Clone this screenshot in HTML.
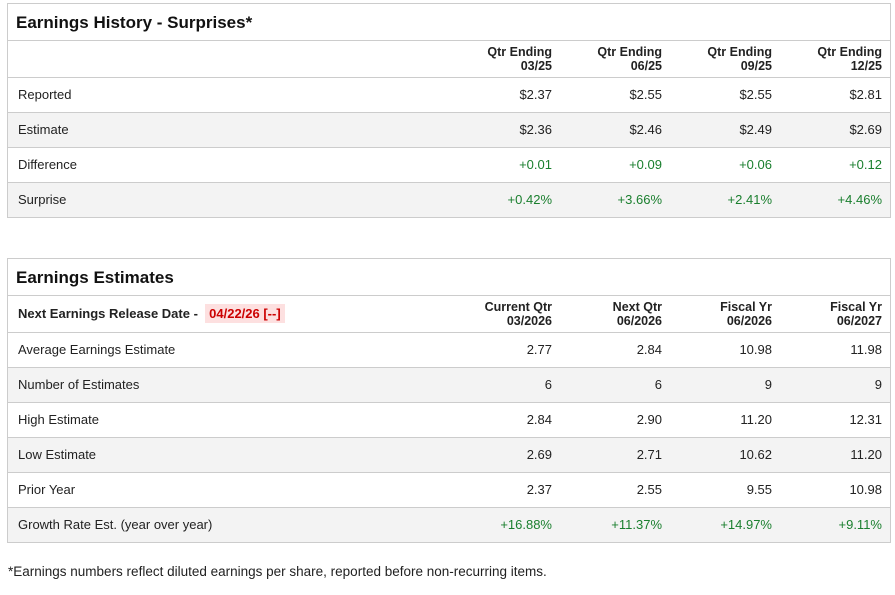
<!DOCTYPE html>
<html><head><style>
body{margin:0;width:895px;height:595px;background:#fff;font-family:"Liberation Sans",sans-serif;color:#222;position:relative;overflow:hidden}
.box{position:absolute;left:7px;width:884px;border:1px solid #ccc;box-sizing:border-box}
.title{height:37px;line-height:37px;padding-left:8px;font-weight:bold;font-size:17px;border-bottom:1px solid #ccc;box-sizing:border-box;color:#111}
.row{height:35px;position:relative;border-bottom:1px solid #ccc;box-sizing:border-box;font-size:13px}
.row:last-child{border-bottom:none;height:34px}
.alt{background:#f3f3f3}
.row .l{position:absolute;left:10px;top:0;line-height:34px}
.row .c{position:absolute;top:0;line-height:34px;text-align:right;width:100px}
.hdr .c{line-height:14px;top:4px;font-weight:bold;font-size:12.5px}
.g{color:#1a7f2e}
.c1{left:444px}.c2{left:554px}.c3{left:664px}.c4{left:774px}
.tag{background:#fde0e0;color:#c00;padding:2px 4px}
</style></head><body>
<div class="box" style="top:3px">
<div class="title">Earnings History - Surprises*</div>
<div class="row hdr" style="height:37px"><div class="c c1">Qtr Ending<br>03/25</div><div class="c c2">Qtr Ending<br>06/25</div><div class="c c3">Qtr Ending<br>09/25</div><div class="c c4">Qtr Ending<br>12/25</div></div>
<div class="row"><div class="l">Reported</div><div class="c c1">$2.37</div><div class="c c2">$2.55</div><div class="c c3">$2.55</div><div class="c c4">$2.81</div></div>
<div class="row alt"><div class="l">Estimate</div><div class="c c1">$2.36</div><div class="c c2">$2.46</div><div class="c c3">$2.49</div><div class="c c4">$2.69</div></div>
<div class="row"><div class="l">Difference</div><div class="c c1 g">+0.01</div><div class="c c2 g">+0.09</div><div class="c c3 g">+0.06</div><div class="c c4 g">+0.12</div></div>
<div class="row alt"><div class="l">Surprise</div><div class="c c1 g">+0.42%</div><div class="c c2 g">+3.66%</div><div class="c c3 g">+2.41%</div><div class="c c4 g">+4.46%</div></div>
</div>
<div class="box" style="top:258px">
<div class="title">Earnings Estimates</div>
<div class="row hdr" style="height:37px"><div class="l" style="font-weight:bold;line-height:36px">Next Earnings Release Date - &nbsp;<span class="tag">04/22/26 [--]</span></div><div class="c c1">Current Qtr<br>03/2026</div><div class="c c2">Next Qtr<br>06/2026</div><div class="c c3">Fiscal Yr<br>06/2026</div><div class="c c4">Fiscal Yr<br>06/2027</div></div>
<div class="row"><div class="l">Average Earnings Estimate</div><div class="c c1">2.77</div><div class="c c2">2.84</div><div class="c c3">10.98</div><div class="c c4">11.98</div></div>
<div class="row alt"><div class="l">Number of Estimates</div><div class="c c1">6</div><div class="c c2">6</div><div class="c c3">9</div><div class="c c4">9</div></div>
<div class="row"><div class="l">High Estimate</div><div class="c c1">2.84</div><div class="c c2">2.90</div><div class="c c3">11.20</div><div class="c c4">12.31</div></div>
<div class="row alt"><div class="l">Low Estimate</div><div class="c c1">2.69</div><div class="c c2">2.71</div><div class="c c3">10.62</div><div class="c c4">11.20</div></div>
<div class="row"><div class="l">Prior Year</div><div class="c c1">2.37</div><div class="c c2">2.55</div><div class="c c3">9.55</div><div class="c c4">10.98</div></div>
<div class="row alt"><div class="l">Growth Rate Est. (year over year)</div><div class="c c1 g">+16.88%</div><div class="c c2 g">+11.37%</div><div class="c c3 g">+14.97%</div><div class="c c4 g">+9.11%</div></div>
</div>
<div style="position:absolute;left:8px;top:564px;font-size:13.5px">*Earnings numbers reflect diluted earnings per share, reported before non-recurring items.</div>
</body></html>
